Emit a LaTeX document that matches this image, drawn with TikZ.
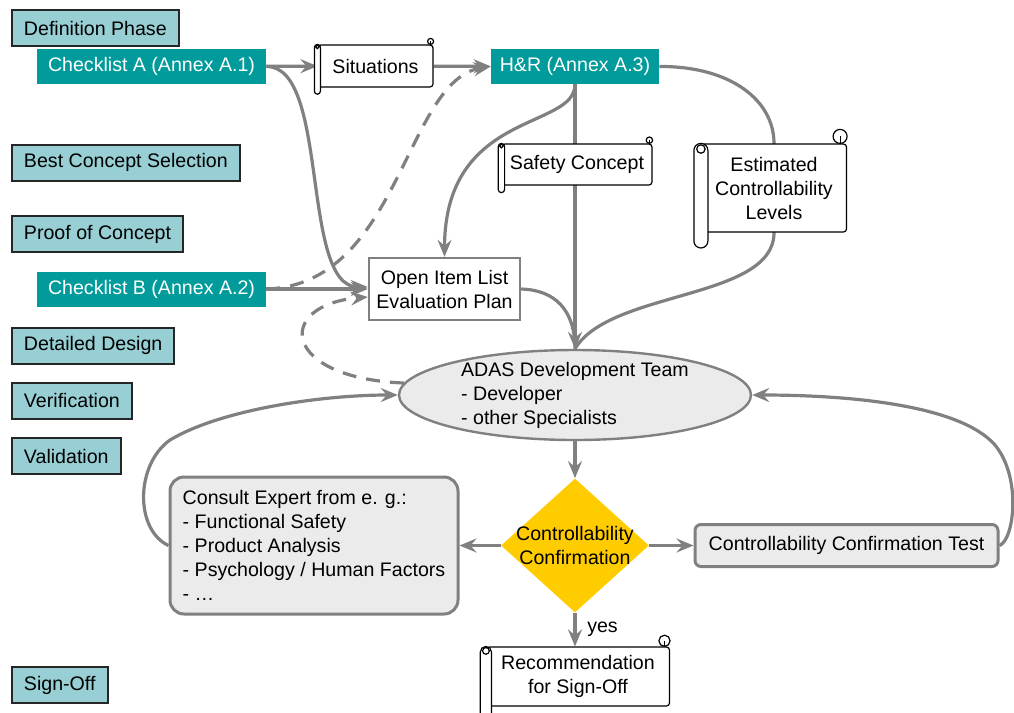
\documentclass[tikz,border=0pt]{standalone}
\usepackage{fontspec}
\setmainfont{Liberation Sans}
\usetikzlibrary{shapes.geometric,arrows.meta,backgrounds}

\definecolor{phasefill}{HTML}{97CFD4}
\definecolor{checkfill}{HTML}{009B9A}
\definecolor{flowgray}{HTML}{808080}
\definecolor{teamfill}{HTML}{EBEBEB}
\definecolor{confirmfill}{HTML}{FFCC00}

% roll on the left and curl at the top right of a scroll node
\newcommand{\scrollparts}[2]{%
  \draw[line width=0.6pt, fill=white, rounded corners=#2]
    ([xshift=-#2]#1.north west) rectangle ([xshift=#2, yshift=-2.2*#2]#1.south west);
  \draw[line width=0.6pt, fill=white] ([yshift=-0.8*#2]#1.north west) circle[radius=0.6*#2];
  \draw[line width=0.6pt, fill=white] ([xshift=-#2, yshift=#2]#1.north east) circle[radius=#2];
  \draw[line width=0.6pt] ([xshift=-#2, yshift=#2]#1.north east) -- ([xshift=-#2]#1.north east);
}

\begin{document}
\begin{tikzpicture}[x=0.5pt, y=-0.5pt,
    every node/.style={font={\fontsize{9.8}{12}\selectfont}},
    phase/.style={draw=black!85, line width=1pt, fill=phasefill, anchor=west, minimum height=18pt, inner xsep=6pt},
    checklist/.style={fill=checkfill, text=white, minimum height=17.5pt, minimum width=114.5pt},
    scroll/.style={draw, line width=0.6pt, fill=white, rounded corners=1.5pt, align=center},
    flow/.style={draw=flowgray, line width=1.6pt, -{Stealth[length=8.5pt,width=7pt,inset=3pt]}},
    flowline/.style={draw=flowgray, line width=1.6pt},
    dashedflow/.style={dash pattern=on 7pt off 5pt}]
    \useasboundingbox (0,0) rectangle (1014,713);

    % Phases
    \node[phase] (defphase) at (11,28) {Definition Phase};
    \node[phase] (bestsel) at (11,162.5) {Best Concept Selection};
    \node[phase] (proof) at (11,234) {Proof of Concept};
    \node[phase] (detdesign) at (11,345.5) {Detailed Design};
    \node[phase] (verif) at (11,400.5) {Verification};
    \node[phase] (valid) at (11,456) {Validation};
    \node[phase] (signoff) at (11,685) {Sign-Off};

    % Checklists
    \node[checklist] (checkA) at (151.5,66.5) {Checklist A (Annex A.1)};
    \node[checklist] (checkB) at (151.5,289) {Checklist B (Annex A.2)};
    \node[checklist, minimum width=84pt] (hr) at (575,66.5) {H\&R (Annex A.3)};

    % Documents
    \node[scroll, minimum width=57.5pt, minimum height=21pt] (situations) at (375.5,66) {Situations};
    \node[scroll, minimum width=75pt, minimum height=20.5pt] (safety) at (577,164.5) {Safety Concept};
    \node[scroll, minimum width=72.5pt, minimum height=44pt] (ecl) at (774,188) {Estimated\\Controllability\\Levels};
    \node[scroll, minimum width=91.5pt, minimum height=29.5pt] (recomm) at (578,676.5) {Recommendation\\for Sign-Off};
    \scrollparts{situations}{1.5pt}
    \scrollparts{safety}{1.6pt}
    \scrollparts{ecl}{3.5pt}
    \scrollparts{recomm}{2.8pt}

    \node[draw=flowgray, line width=1.2pt, fill=white, minimum width=75.5pt, minimum height=31pt, align=center] (oil) at (444.5,289) {Open Item List\\Evaluation Plan};

    % Team and confirmation
    \node[ellipse, draw=flowgray, line width=1.2pt, fill=teamfill, minimum width=176pt, minimum height=45pt, inner xsep=0pt, inner ysep=-1pt, align=left] (adas) at (575,395) {ADAS Development Team\\- Developer\\- other Specialists};
    \node[diamond, fill=confirmfill, minimum width=74pt, minimum height=67pt, inner sep=0pt] (confirm) at (575,545.5) {};
    \node[align=center, inner sep=0pt] (confirmtext) at (confirm) {Controllability\\Confirmation};
    \node[draw=flowgray, line width=1.5pt, fill=teamfill, rounded corners=7pt, minimum width=144pt, minimum height=68.5pt, align=left] (consult) at (314,545.5) {Consult Expert from e. g.:\\- Functional Safety\\- Product Analysis\\- Psychology / Human Factors\\- …};
    \node[draw=flowgray, line width=1.5pt, fill=teamfill, rounded corners=3pt, minimum width=151.5pt, minimum height=21pt] (cctest) at (846.5,545.5) {Controllability Confirmation Test};

    % Connectors
    \begin{pgfonlayer}{background}
    \draw[flow] (checkA) -- (situations);
    \draw[flow] (situations) -- (hr);
    \draw[flow] (checkA.east) .. controls (330,66) and (300,287) .. ([yshift=1pt]oil.west);
    \draw[flow] (checkB) -- (oil);
    \draw[flow, dashedflow] (checkB.east) .. controls (400,285) and (405,80) .. (hr.west);
    \draw[flow] (hr.south) -- (adas.north);
    \draw[flow] (hr.south) .. controls (575,130) and (445,110) .. (oil.north);
    \draw[flowline] (hr.east) .. controls (730,66) and (774,100) .. (ecl.north) -- (ecl.south) .. controls (774,300) and (610,290) .. (adas.north);
    \draw[flowline] (oil.east) .. controls (555,290) and (575,310) .. (adas.north);
    \draw[flow, dashedflow] (adas.176) .. controls (280,378) and (275,305) .. ([yshift=-4pt]oil.west);
    \draw[flow] (adas) -- (confirm);
    \draw[flow] (confirm) -- (consult);
    \draw[flow] (confirm) -- (cctest);
    \draw[flow] (confirm.south) -- node[right, xshift=2pt] {yes} (confirm.south |- recomm.north);
    \draw[flow] (consult.west) .. controls (135,530) and (135,465) .. (170,440) .. controls (220,410) and (320,395) .. (adas.west);
    \draw[flow] (cctest.east) .. controls (1014,540) and (1022,478) .. (995,445) .. controls (960,405) and (850,395) .. (adas.east);
    \end{pgfonlayer}
\end{tikzpicture}
\end{document}
